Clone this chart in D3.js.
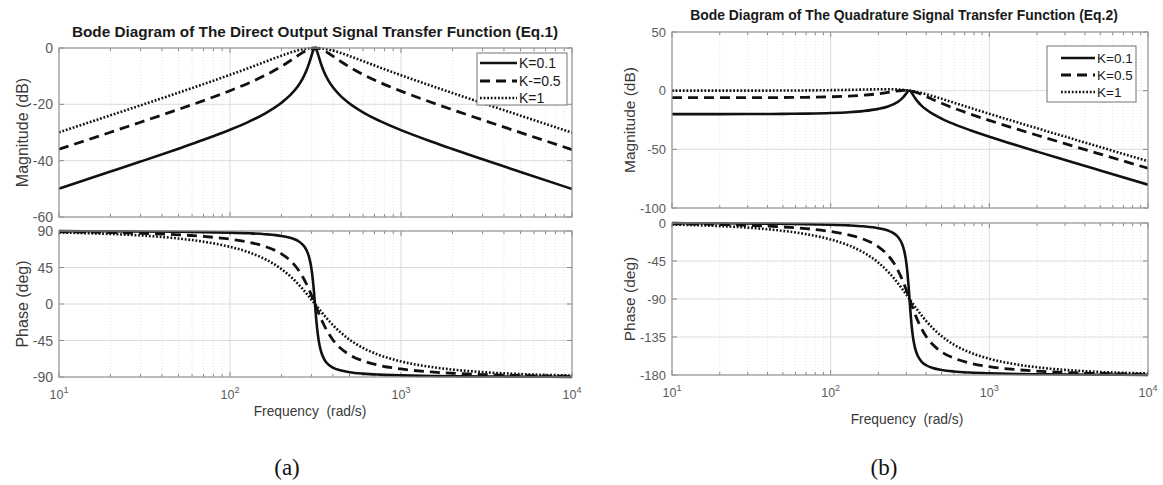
<!DOCTYPE html>
<html><head><meta charset="utf-8">
<script src="https://cdn.jsdelivr.net/npm/d3@7"></script>
<style>body{margin:0;background:#fff}svg{display:block}</style>
</head><body><svg id="c" width="1163" height="485"></svg>
<script>
// ---------------- data ----------------
const freq = [10,20,30,50,70,100,130,160,200,230,250,265,280,290,298,305,310,314,318,323,330,340,355,375,400,440,500,600,750,1000,1500,2000,3000,5000,10000];
const seriesLabelsA = ["K=0.1","K-=0.5","K=1"];
const seriesLabelsB = ["K=0.1","K=0.5","K=1"];
const magD_K01 = [-49.93,-43.88,-40.32,-35.74,-32.60,-29.02,-26.04,-23.27,-19.45,-16.13,-13.45,-11.01,-7.98,-5.48,-3.21,-1.27,-0.28,0,-0.27,-1.21,-2.99,-5.49,-8.49,-11.38,-13.96,-16.84,-19.73,-22.87,-25.90,-29.17,-33.20,-35.87,-39.51,-44.01,-50.05];
const magD_K05 = [-35.95,-29.91,-26.35,-21.79,-18.67,-15.17,-12.31,-9.75,-6.52,-4.15,-2.66,-1.66,-0.83,-0.42,-0.19,-0.06,-0.01,0,-0.01,-0.06,-0.17,-0.42,-0.94,-1.79,-2.91,-4.61,-6.74,-9.40,-12.18,-15.31,-19.27,-21.91,-25.54,-30.03,-36.08];
const magD_K1  = [-29.93,-23.90,-20.36,-15.85,-12.83,-9.52,-7.00,-4.93,-2.72,-1.46,-0.83,-0.48,-0.22,-0.11,-0.05,-0.02,0,0,0,-0.01,-0.04,-0.11,-0.26,-0.52,-0.93,-1.68,-2.86,-4.66,-6.88,-9.66,-13.40,-15.98,-19.56,-24.02,-30.06];
const phD_K01 = [89.82,89.63,89.45,89.06,88.66,87.97,87.14,86.06,83.88,81.02,77.73,73.66,66.47,57.87,46.30,30.19,14.38,0,-14.21,-29.48,-44.84,-57.88,-67.88,-74.35,-78.44,-81.73,-84.08,-85.88,-87.09,-88.00,-88.75,-89.08,-89.39,-89.64,-89.82];
const phD_K05 = [89.09,88.17,87.24,85.33,83.31,79.95,75.97,71.02,61.82,51.68,42.61,34.29,24.67,17.66,11.82,6.64,2.94,0,-2.90,-6.45,-11.25,-17.67,-26.20,-35.52,-44.36,-53.98,-62.59,-70.18,-75.76,-80.12,-83.75,-85.40,-86.97,-88.19,-89.10];
const phD_K1  = [88.17,86.34,84.49,80.72,76.80,70.48,63.45,55.46,43.01,32.32,24.70,18.82,12.94,9.04,5.97,3.33,1.47,0,-1.45,-3.24,-5.68,-9.05,-13.82,-19.64,-26.05,-34.51,-43.96,-54.22,-63.08,-70.79,-77.65,-80.86,-83.96,-86.39,-88.20];
const magQ_K01 = [-19.99,-19.97,-19.92,-19.78,-19.56,-19.08,-18.38,-17.41,-15.53,-13.43,-11.47,-9.54,-6.98,-4.79,-2.76,-1.01,-0.17,0,-0.38,-1.45,-3.42,-6.18,-9.55,-12.92,-16.07,-19.77,-23.77,-28.49,-33.46,-39.23,-46.78,-51.95,-59.11,-68.05,-80.11];
const magQ_K05 = [-6.01,-5.99,-5.95,-5.83,-5.64,-5.23,-4.65,-3.90,-2.60,-1.45,-0.68,-0.19,0.16,0.27,0.27,0.19,0.10,0,-0.12,-0.30,-0.60,-1.11,-2.01,-3.33,-5.02,-7.54,-10.78,-15.02,-19.74,-25.37,-32.85,-38.00,-45.15,-54.07,-66.14];
const magQ_K1  = [0.00,0.02,0.04,0.11,0.21,0.42,0.67,0.93,1.20,1.24,1.15,1.00,0.77,0.58,0.41,0.24,0.11,0,-0.11,-0.26,-0.48,-0.80,-1.32,-2.06,-3.03,-4.61,-6.90,-10.29,-14.45,-19.72,-26.98,-32.06,-39.16,-48.07,-60.12];
const phQ_K01 = [-0.18,-0.37,-0.55,-0.94,-1.34,-2.03,-2.86,-3.94,-6.12,-8.98,-12.27,-16.34,-23.53,-32.13,-43.70,-59.81,-75.62,-90,-104.21,-119.48,-134.84,-147.88,-157.88,-164.35,-168.44,-171.73,-174.08,-175.88,-177.09,-178.00,-178.75,-179.08,-179.39,-179.64,-179.82];
const phQ_K05 = [-0.91,-1.83,-2.76,-4.67,-6.69,-10.05,-14.03,-18.98,-28.18,-38.32,-47.39,-55.71,-65.33,-72.34,-78.18,-83.36,-87.06,-90,-92.90,-96.45,-101.25,-107.67,-116.20,-125.52,-134.36,-143.98,-152.59,-160.18,-165.76,-170.12,-173.75,-175.40,-176.97,-178.19,-179.10];
const phQ_K1  = [-1.83,-3.66,-5.51,-9.28,-13.20,-19.52,-26.55,-34.54,-46.99,-57.68,-65.30,-71.18,-77.06,-80.96,-84.03,-86.67,-88.53,-90,-91.45,-93.24,-95.68,-99.05,-103.82,-109.64,-116.05,-124.51,-133.96,-144.22,-153.08,-160.79,-167.65,-170.86,-173.96,-176.39,-178.20];
const xTickExps = [1,2,3,4];
const magTicksA = [0,-20,-40,-60];
const phTicksA = [90,45,0,-45,-90];
const magTicksB = [50,0,-50,-100];
const phTicksB = [0,-45,-90,-135,-180];
const titleA = "Bode Diagram of The Direct Output Signal Transfer Function (Eq.1)";
const titleB = "Bode Diagram of The Quadrature Signal Transfer Function (Eq.2)";
const xLabel = "Frequency  (rad/s)";
const magLabel = "Magnitude (dB)";
const phLabel = "Phase (deg)";

// ---------------- drawing ----------------
const svg = d3.select("#c");
const styles = [
  {dash: null, w: 2.6},
  {dash: "10,6", w: 2.8},
  {dash: "1.8,1.8", w: 2.6}
];
const FONT = "'Liberation Sans', Arial, sans-serif";
let clipId = 0;

function drawAxes(g, x, y, ticks, labelText, top, bot, x0, x1, c) {
  const minor = [];
  for (let e = 1; e < 4; e++) for (let m = 2; m <= 9; m++) minor.push(m * Math.pow(10, e));
  g.append("g").selectAll("line").data(minor).join("line")
    .attr("x1", d => x(d)).attr("x2", d => x(d)).attr("y1", top).attr("y2", bot)
    .attr("stroke", "#e2e2e2").attr("stroke-width", 1).attr("stroke-dasharray", "1,2");
  g.append("g").selectAll("line").data(xTickExps).join("line")
    .attr("x1", d => x(Math.pow(10, d))).attr("x2", d => x(Math.pow(10, d))).attr("y1", top).attr("y2", bot)
    .attr("stroke", "#dcdcdc").attr("stroke-width", 1);
  g.append("g").selectAll("line").data(ticks).join("line")
    .attr("x1", x0).attr("x2", x1).attr("y1", d => y(d)).attr("y2", d => y(d))
    .attr("stroke", "#dcdcdc").attr("stroke-width", 1);
  const tk = g.append("g").attr("stroke", "#8a8a8a").attr("stroke-width", 1);
  minor.forEach(d => {
    tk.append("line").attr("x1", x(d)).attr("x2", x(d)).attr("y1", bot).attr("y2", bot - 3);
    tk.append("line").attr("x1", x(d)).attr("x2", x(d)).attr("y1", top).attr("y2", top + 3);
  });
  xTickExps.forEach(e => {
    const xv = x(Math.pow(10, e));
    tk.append("line").attr("x1", xv).attr("x2", xv).attr("y1", bot).attr("y2", bot - 5);
    tk.append("line").attr("x1", xv).attr("x2", xv).attr("y1", top).attr("y2", top + 5);
  });
  ticks.forEach(t => {
    tk.append("line").attr("x1", x0).attr("x2", x0 + 5).attr("y1", y(t)).attr("y2", y(t));
    tk.append("line").attr("x1", x1).attr("x2", x1 - 5).attr("y1", y(t)).attr("y2", y(t));
  });
  g.append("g").selectAll("text").data(ticks).join("text")
    .attr("x", x0 - 6).attr("y", d => y(d)).attr("dy", "0.36em")
    .attr("text-anchor", "end").attr("font-family", FONT).attr("font-size", c.yTickSize)
    .attr("fill", "#5a5a5a").text(d => d);
  g.append("text").attr("transform", `translate(${c.labelX},${(top + bot) / 2}) rotate(-90)`)
    .attr("text-anchor", "middle").attr("dy", "0.35em").attr("font-family", FONT).attr("font-size", c.yLabSize)
    .attr("fill", "#3a3a3a").text(labelText);
}

function drawBox(g, x0, x1, top, bot) {
  g.append("rect").attr("x", x0).attr("y", top).attr("width", x1 - x0).attr("height", bot - top)
    .attr("fill", "none").attr("stroke", "#9a9a9a").attr("stroke-width", 1.2);
}

function drawLines(g, x, y, seriesList, x0, x1, top, bot) {
  const id = "clip" + (clipId++);
  svg.append("defs").append("clipPath").attr("id", id).append("rect")
    .attr("x", x0).attr("y", top - 2).attr("width", x1 - x0).attr("height", bot - top + 4);
  const line = d3.line().x((d, i) => x(freq[i])).y(d => y(d)).curve(d3.curveMonotoneX);
  const lg = g.append("g").attr("clip-path", `url(#${id})`);
  seriesList.forEach((s, i) => {
    lg.append("path").datum(s).attr("d", line).attr("fill", "none").attr("stroke", "#111")
      .attr("stroke-width", styles[i].w).attr("stroke-dasharray", styles[i].dash)
      .attr("stroke-linejoin", "round");
  });
}

function drawLegend(g, labels, L) {
  g.append("rect").attr("x", L.x).attr("y", L.y).attr("width", L.w).attr("height", L.h)
    .attr("fill", "#fff").attr("stroke", "#8a8a8a").attr("stroke-width", 1.2);
  labels.forEach((lab, i) => {
    g.append("line").attr("x1", L.l0).attr("x2", L.l1).attr("y1", L.rows[i]).attr("y2", L.rows[i])
      .attr("stroke", "#111").attr("stroke-width", styles[i].w).attr("stroke-dasharray", styles[i].dash);
    g.append("text").attr("x", L.l1 + 2).attr("y", L.rows[i]).attr("dy", "0.36em")
      .attr("font-family", FONT).attr("font-size", L.fs).attr("fill", "#1a1a1a").text(lab);
  });
}

function drawPanel(c) {
  const g = svg.append("g");
  const x = d3.scaleLog().domain([10, 10000]).range([c.x0, c.x1]);
  const yM = d3.scaleLinear().domain([c.magTicks[c.magTicks.length - 1], c.magTicks[0]]).range([c.mBot, c.mTop]);
  const yP = d3.scaleLinear().domain([c.phTicks[c.phTicks.length - 1], c.phTicks[0]]).range([c.pBot, c.pTop]);
  drawAxes(g, x, yM, c.magTicks, magLabel, c.mTop, c.mBot, c.x0, c.x1, c);
  drawAxes(g, x, yP, c.phTicks, phLabel, c.pTop, c.pBot, c.x0, c.x1, c);
  drawLines(g, x, yM, c.mag, c.x0, c.x1, c.mTop, c.mBot);
  drawLines(g, x, yP, c.ph, c.x0, c.x1, c.pTop, c.pBot);
  drawBox(g, c.x0, c.x1, c.mTop, c.mBot);
  drawBox(g, c.x0, c.x1, c.pTop, c.pBot);
  xTickExps.forEach(e => {
    const t = g.append("text").attr("x", x(Math.pow(10, e))).attr("y", c.tickY)
      .attr("text-anchor", "middle").attr("font-family", FONT).attr("font-size", 12.5).attr("fill", "#5a5a5a");
    t.append("tspan").text("10");
    t.append("tspan").attr("dy", -6).attr("font-size", 9).text(e);
  });
  g.append("text").attr("x", c.xLabX).attr("y", c.xLabY).attr("text-anchor", "middle")
    .attr("font-family", FONT).attr("font-size", 13.8).attr("fill", "#3a3a3a")
    .style("white-space", "pre").text(xLabel);
  g.append("text").attr("x", c.titleX).attr("y", c.titleY).attr("text-anchor", "middle")
    .attr("font-family", FONT).attr("font-weight", "bold").attr("font-size", c.titleSize)
    .attr("fill", "#1a1a1a").text(c.title);
  drawLegend(g, c.labels, c.lg);
  g.append("text").attr("x", c.capX).attr("y", c.capY).attr("text-anchor", "middle")
    .attr("font-family", "'Liberation Serif', 'DejaVu Serif', serif").attr("font-size", 23)
    .attr("fill", "#111").text(c.cap);
}

drawPanel({
  x0: 59, x1: 572, mTop: 48, mBot: 217, pTop: 231, pBot: 377,
  magTicks: magTicksA, phTicks: phTicksA,
  mag: [magD_K01, magD_K05, magD_K1], ph: [phD_K01, phD_K05, phD_K1],
  labelX: 22, yTickSize: 14, yLabSize: 16, tickY: 399, xLabX: 310, xLabY: 416,
  title: titleA, titleX: 315, titleY: 37, titleSize: 15.3,
  labels: seriesLabelsA,
  lg: {x: 477, y: 53, w: 90, h: 52, rows: [63, 81, 98], l0: 480, l1: 517, fs: 14},
  cap: "(a)", capX: 287, capY: 475
});
drawPanel({
  x0: 672, x1: 1148, mTop: 32, mBot: 208, pTop: 223, pBot: 375,
  magTicks: magTicksB, phTicks: phTicksB,
  mag: [magQ_K01, magQ_K05, magQ_K1], ph: [phQ_K01, phQ_K05, phQ_K1],
  labelX: 630, yTickSize: 13, yLabSize: 15.5, tickY: 397, xLabX: 907, xLabY: 424,
  title: titleB, titleX: 904, titleY: 20, titleSize: 13.9,
  labels: seriesLabelsB,
  lg: {x: 1047, y: 46, w: 89, h: 56, rows: [58, 75, 92], l0: 1061, l1: 1095, fs: 13.5},
  cap: "(b)", capX: 884, capY: 475
});
</script>
</body></html>
